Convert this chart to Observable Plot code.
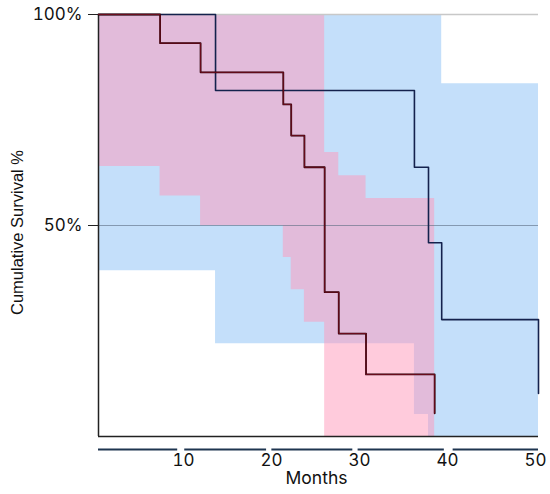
<!DOCTYPE html>
<html>
<head>
<meta charset="utf-8">
<script src="https://cdn.jsdelivr.net/npm/d3@7"></script>
<script src="https://cdn.jsdelivr.net/npm/@observablehq/plot@0.6"></script>
<style>
  html, body { margin: 0; padding: 0; background: #fff; }
  #chart svg { display: block; }
</style>
</head>
<body>
<div id="chart"></div>
<script>
// Group A (dark red curve, pink confidence band)
const redMonths   = [0, 7.0, 11.6, 21.0, 21.9, 23.4, 25.7, 27.3, 30.4, 38.2];
const redSurvival = [100, 93.2, 86.3, 78.7, 71.3, 63.8, 34.2, 24.4, 14.7, 5.5];
const redLower    = [64, 57, 50, 42.4, 34.8, 27.1, 0, 0, 0, 0];
const redUpper    = [100, 100, 100, 100, 100, 100, 67.3, 61.8, 56.4, 56.4];

// Group B (navy curve, light blue confidence band)
const blueMonths   = [0, 13.3, 35.9, 37.5, 39.0, 50];
const blueSurvival = [100, 82.0, 63.8, 45.9, 27.7, 10.2];
const blueLower    = [39.3, 22.0, 5.2, 0, 0, 0];
const blueUpper    = [100, 100, 100, 100, 83.6, 83.6];

// Axes
const xTicks = [10, 20, 30, 40, 50];
const yTicks = [50, 100];
const axisSegStart = [0, 9.8, 19.7, 29.5, 40.3];
const axisSegEnd   = [9.0, 19.1, 28.9, 39.3, 50];

const red = redMonths.map((m, i) => ({month: m, surv: redSurvival[i], lo: redLower[i], hi: redUpper[i]}));
const blue = blueMonths.map((m, i) => ({month: m, surv: blueSurvival[i], lo: blueLower[i], hi: blueUpper[i]}));
const segs = axisSegStart.map((s, i) => ({start: s, end: axisSegEnd[i]}));

const chart = Plot.plot({
  width: 550,
  height: 494,
  marginLeft: 98,
  marginRight: 12,
  marginTop: 14,
  marginBottom: 58,
  x: {domain: [0, 50], axis: null},
  y: {domain: [0, 100], axis: null},
  style: {fontFamily: "Inter, 'Liberation Sans', sans-serif", background: "#fff", color: "#111"},
  marks: [
    Plot.areaY(blue, {x: "month", y1: "lo", y2: "hi", curve: "step-after", fill: "#c4dffa"}),
    Plot.areaY(red, {x: "month", y1: "lo", y2: "hi", curve: "step-after", fill: "#ff97b9", fillOpacity: 0.5}),
    Plot.ruleY([50], {stroke: "#5a6b80", strokeOpacity: 0.6, strokeWidth: 1}),
    Plot.ruleY([100], {stroke: "#c8c8c8", strokeWidth: 1.5}),
    Plot.ruleX([0], {stroke: "#222", strokeWidth: 1.5}),
    Plot.ruleY([0], {stroke: "#222", strokeWidth: 1.5}),
    Plot.line(blue, {x: "month", y: "surv", curve: "step-after", stroke: "#14224d", strokeWidth: 1.6}),
    Plot.line(red, {x: "month", y: "surv", curve: "step-after", stroke: "#2a0208", strokeWidth: 1.8}),
    Plot.line(red, {x: "month", y: "surv", curve: "step-after", stroke: "#8a1228", strokeWidth: 0.7}),
    Plot.ruleY(segs, {y: 0, x1: "start", x2: "end", dy: 13, stroke: "#1e3550", strokeWidth: 2}),
    Plot.axisY(yTicks, {tickSize: 10, tickPadding: 6, tickFormat: d => d + "%", fontSize: 17, label: null, stroke: "#222"}),
    Plot.axisX(xTicks, {tickSize: 0, tickPadding: 17, fontSize: 17, label: null, dx: -3}),
    Plot.text(["Cumulative Survival %"], {frameAnchor: "left", textAnchor: "middle", dx: -81, dy: 7, rotate: -90, fontSize: 16.5, fontFamily: "'Liberation Sans', Arial, sans-serif"}),
    Plot.text(["Months"], {frameAnchor: "bottom", dx: -2, dy: 47, fontSize: 17.5})
  ]
});
document.getElementById("chart").appendChild(chart);
</script>
</body>
</html>
